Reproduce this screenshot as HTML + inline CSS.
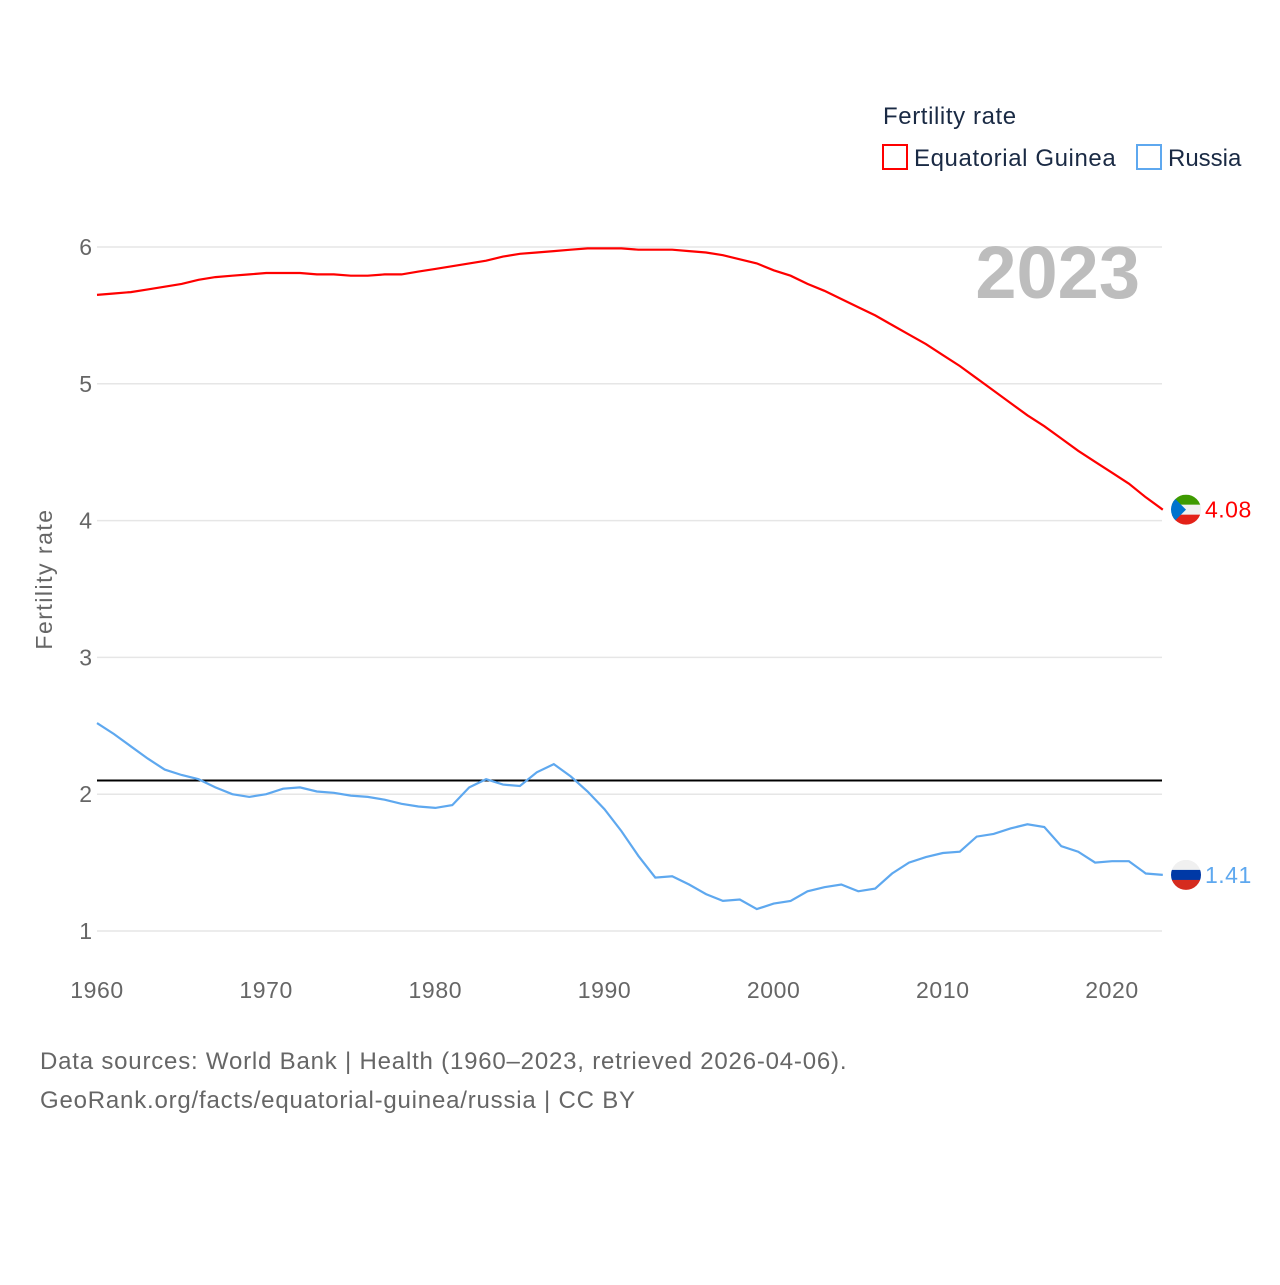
<!DOCTYPE html>
<html><head><meta charset="utf-8"><style>
body{margin:0;background:#fff;}
svg text{font-family:"Liberation Sans",sans-serif;}
</style></head><body>
<svg width="1280" height="1280" viewBox="0 0 1280 1280" xmlns="http://www.w3.org/2000/svg">
<g id="grid"></g>
<g id="marks"></g>
<text x="1140" y="298" text-anchor="end" font-size="74" font-weight="bold" fill="#bdbdbd">2023</text>
<text x="52" y="579" font-size="23" fill="#666" letter-spacing="1.5" text-anchor="middle" transform="rotate(-90 52 579)">Fertility rate</text>
<text x="883" y="124" font-size="24" fill="#1a2a44" letter-spacing="0.6">Fertility rate</text>
<g>
<rect x="883" y="145" width="24" height="24" fill="none" stroke="#f00" stroke-width="2"/>
<text x="914" y="166" font-size="24" fill="#1a2a44" letter-spacing="0.6">Equatorial Guinea</text></g>
<g>
<rect x="1137" y="145" width="24" height="24" fill="none" stroke="#5ea8ef" stroke-width="2"/>
<text x="1168" y="166" font-size="24" fill="#1a2a44">Russia</text></g>
<text x="40" y="1069" font-size="24" fill="#666" letter-spacing="0.8">Data sources: World Bank | Health (1960–2023, retrieved 2026-04-06).</text>
<text x="40" y="1108" font-size="24" fill="#666" letter-spacing="0.8">GeoRank.org/facts/equatorial-guinea/russia | CC BY</text>
</svg>
<script>
const years=[];for(let y=1960;y<=2023;y++)years.push(y);
const gnq=[5.65,5.66,5.67,5.69,5.71,5.73,5.76,5.78,5.79,5.80,5.81,5.81,5.81,5.80,5.80,5.79,5.79,5.80,5.80,5.82,5.84,5.86,5.88,5.90,5.93,5.95,5.96,5.97,5.98,5.99,5.99,5.99,5.98,5.98,5.98,5.97,5.96,5.94,5.91,5.88,5.83,5.79,5.73,5.68,5.62,5.56,5.50,5.43,5.36,5.29,5.21,5.13,5.04,4.95,4.86,4.77,4.69,4.60,4.51,4.43,4.35,4.27,4.17,4.08];
const rus=[2.52,2.44,2.35,2.26,2.18,2.14,2.11,2.05,2.00,1.98,2.00,2.04,2.05,2.02,2.01,1.99,1.98,1.96,1.93,1.91,1.90,1.92,2.05,2.11,2.07,2.06,2.16,2.22,2.13,2.02,1.89,1.73,1.55,1.39,1.40,1.34,1.27,1.22,1.23,1.16,1.20,1.22,1.29,1.32,1.34,1.29,1.31,1.42,1.50,1.54,1.57,1.58,1.69,1.71,1.75,1.78,1.76,1.62,1.58,1.50,1.51,1.51,1.42,1.41];
const yTicks=[1,2,3,4,5,6];
const xTicks=[1960,1970,1980,1990,2000,2010,2020];
const replacement=2.1;
const NS='http://www.w3.org/2000/svg';
const X=y=>97+(y-1960)*(1015/60);
const Y=v=>931-(v-1)*136.8;
function mk(t,a,p){const e=document.createElementNS(NS,t);for(const k in a)e.setAttribute(k,a[k]);p.appendChild(e);return e;}
const grid=document.getElementById('grid'),marks=document.getElementById('marks');
yTicks.forEach(v=>{
 const l=mk('line',{x1:97,x2:1162,y1:Y(v),y2:Y(v),stroke:'#e6e6e6','stroke-width':1.5},grid);
 
 
 const t=mk('text',{x:92,y:Y(v)+8,'text-anchor':'end','font-size':23,fill:'#666'},grid);t.textContent=v;
 
 
});
xTicks.forEach(v=>{
 const t=mk('text',{x:X(v),y:998,'text-anchor':'middle','font-size':23,fill:'#666','letter-spacing':0.6},grid);t.textContent=v;
 
 
});
const rl=mk('line',{x1:97,x2:1162,y1:Y(replacement),y2:Y(replacement),stroke:'#000','stroke-width':2},marks);


function series(d,c,name){
 const p=mk('path',{d:d.map((v,i)=>(i?'L':'M')+X(years[i]).toFixed(1)+' '+Y(v).toFixed(1)).join(''),fill:'none',stroke:c,'stroke-width':2.2},marks);
 
 
 const last=d[d.length-1],cy=Y(last);
 const t=mk('text',{x:1205,y:cy+8,'font-size':23,fill:c,'letter-spacing':0.5},marks);t.textContent=last.toFixed(2);
 
 
 return cy;
}
const cy1=series(gnq,'#f00','equatorial-guinea');
const cy2=series(rus,'#5ea8ef','russia');
function flag(cy,stripes,name,tri){
 const g=mk('g',{},marks);
 
 
 const id='c'+name;
 const cp=mk('clipPath',{id:id},g);mk('circle',{cx:1186,cy:cy,r:15},cp);
 const h=30/stripes.length;
 stripes.forEach((c,i)=>mk('rect',{x:1171,y:cy-15+i*h,width:30,height:h+0.5,fill:c,'clip-path':'url(#'+id+')'},g));
 if(tri)mk('polygon',{points:`1171,${cy-15} 1186,${cy} 1171,${cy+15}`,fill:'#0073ce','clip-path':'url(#'+id+')'},g);
}
flag(cy1,['#3e9a00','#f0f0f0','#e32118'],'equatorial-guinea',true);
flag(cy2,['#f0f0f0','#0039a6','#d52b1e'],'russia',false);
</script>
</body></html>
